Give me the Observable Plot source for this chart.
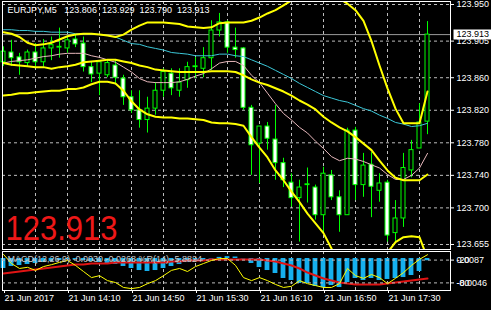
<!DOCTYPE html>
<html><head><meta charset="utf-8">
<script src="https://cdn.jsdelivr.net/npm/d3@7"></script>
<script src="https://cdn.jsdelivr.net/npm/@observablehq/plot@0.6"></script>
<style>
html,body{margin:0;padding:0;background:#000;}
#chart{position:relative;width:491px;height:310px;background:#000;overflow:hidden;}
#chart svg{position:absolute;left:0;}
</style></head><body><div id="chart"></div>
<script>
// ---------- data ----------
const symbol = "EURJPY,M5";
const open = [123.879,123.891,123.885,123.878,123.891,123.879,123.896,123.897,123.896,123.907,
  123.902,123.873,123.865,123.863,123.875,123.859,123.836,123.820,123.808,123.822,
  123.844,123.865,123.844,123.857,123.873,123.871,123.884,123.918,123.928,123.897,
  123.896,123.823,123.779,123.800,123.784,123.755,123.731,123.712,123.728,123.725,
  123.691,123.740,123.713,123.691,123.795,123.728,123.753,123.721,123.731,123.669,
  123.687,123.746,123.773,123.806];
const high = [123.898,123.906,123.890,123.894,123.902,123.907,123.910,123.921,123.912,123.912,
  123.910,123.879,123.881,123.881,123.881,123.863,123.844,123.844,123.836,123.854,
  123.871,123.871,123.871,123.879,123.885,123.897,123.930,123.939,123.930,123.921,
  123.897,123.826,123.800,123.805,123.826,123.761,123.742,123.734,123.749,123.728,
  123.750,123.746,123.721,123.798,123.799,123.767,123.768,123.742,123.734,123.709,
  123.767,123.783,123.828,123.929];
const low = [123.874,123.874,123.863,123.874,123.873,123.873,123.881,123.884,123.890,123.897,
  123.867,123.854,123.838,123.860,123.853,123.826,123.816,123.798,123.792,123.814,
  123.836,123.838,123.836,123.847,123.859,123.860,123.869,123.910,123.890,123.884,
  123.820,123.740,123.730,123.771,123.734,123.725,123.701,123.658,123.706,123.685,
  123.670,123.709,123.670,123.691,123.709,123.713,123.688,123.707,123.658,123.656,
  123.676,123.737,123.773,123.790];
const close = [123.892,123.884,123.879,123.891,123.879,123.896,123.900,123.898,123.906,123.901,
  123.873,123.864,123.879,123.878,123.860,123.836,123.820,123.808,123.822,123.844,
  123.867,123.847,123.854,123.873,123.874,123.884,123.918,123.928,123.897,123.894,
  123.823,123.777,123.800,123.785,123.755,123.734,123.712,123.725,123.729,123.691,
  123.742,123.713,123.691,123.795,123.728,123.752,123.726,123.730,123.666,123.687,
  123.749,123.771,123.805,123.913];
const bbUpper = [123.916,123.914,123.910,123.903,123.900,123.901,123.903,123.907,123.911,123.913,
  123.914,123.914,123.913,123.912,123.910,123.913,123.919,123.924,123.928,123.928,
  123.928,123.927,123.926,123.923,123.922,123.921,123.922,123.927,123.928,123.928,
  123.928,123.930,123.934,123.939,123.943,123.949,123.955,123.960,123.964,123.965,
  123.965,123.962,123.957,123.951,123.943,123.930,123.905,123.875,123.847,123.822,
  123.804,123.804,123.804,123.843];
const bbMiddle = [123.878,123.876,123.875,123.874,123.873,123.873,123.871,123.873,123.874,123.876,
  123.879,123.880,123.881,123.882,123.882,123.880,123.878,123.875,123.873,123.870,
  123.869,123.868,123.867,123.867,123.867,123.867,123.868,123.868,123.868,123.867,
  123.863,123.858,123.854,123.851,123.847,123.843,123.838,123.832,123.827,123.821,
  123.812,123.805,123.799,123.794,123.787,123.779,123.771,123.758,123.746,123.737,
  123.734,123.734,123.734,123.741];
const bbLower = [123.838,123.839,123.841,123.841,123.842,123.843,123.844,123.844,123.846,123.846,
  123.848,123.852,123.855,123.855,123.853,123.844,123.831,123.821,123.815,123.812,
  123.811,123.811,123.810,123.810,123.809,123.808,123.805,123.804,123.804,123.803,
  123.801,123.787,123.774,123.762,123.746,123.734,123.720,123.707,123.693,123.681,
  123.669,123.650,123.635,123.626,123.621,123.621,123.626,123.633,123.645,123.658,
  123.664,123.665,123.664,123.638];
const maSlow = [123.919,123.919,123.918,123.918,123.917,123.917,123.916,123.916,123.916,123.914,
  123.914,123.914,123.913,123.912,123.910,123.906,123.902,123.901,123.898,123.896,
  123.894,123.891,123.890,123.889,123.887,123.887,123.887,123.889,123.889,123.887,
  123.886,123.882,123.878,123.874,123.869,123.864,123.859,123.853,123.848,123.843,
  123.838,123.835,123.832,123.830,123.826,123.822,123.819,123.814,123.810,123.805,
  123.803,123.800,123.801,123.804];
const maFast = [123.878,123.880,123.881,123.882,123.884,123.886,123.887,123.889,123.890,123.890,
  123.890,123.887,123.885,123.882,123.879,123.873,123.867,123.859,123.855,123.854,
  123.854,123.854,123.855,123.858,123.862,123.865,123.871,123.878,123.880,123.880,
  123.875,123.863,123.854,123.841,123.828,123.816,123.808,123.799,123.792,123.782,
  123.773,123.763,123.758,123.761,123.760,123.757,123.753,123.749,123.741,123.735,
  123.735,123.740,123.749,123.767];
const macdMain = [-0.0134,-0.0107,-0.0094,-0.0080,-0.0067,-0.0054,-0.0040,-0.0027,-0.0013,-0.0013,
  -0.0027,-0.0040,-0.0054,-0.0067,-0.0080,-0.0107,-0.0134,-0.0161,-0.0174,-0.0161,
  -0.0134,-0.0107,-0.0080,-0.0054,-0.0040,-0.0027,-0.0007,0.0015,0.0025,0.0020,
  -0.0005,-0.0067,-0.0121,-0.0161,-0.0201,-0.0268,-0.0295,-0.0335,-0.0335,-0.0375,
  -0.0389,-0.0362,-0.0389,-0.0322,-0.0268,-0.0295,-0.0268,-0.0295,-0.0281,-0.0268,
  -0.0255,-0.0228,-0.0174,-0.0030];
const macdSignal = [-0.0201,-0.0188,-0.0174,-0.0161,-0.0147,-0.0134,-0.0121,-0.0107,-0.0094,-0.0080,
  -0.0080,-0.0067,-0.0067,-0.0067,-0.0054,-0.0054,-0.0054,-0.0054,-0.0054,-0.0054,
  -0.0054,-0.0040,-0.0040,-0.0027,-0.0027,-0.0027,-0.0013,-0.0013,-0.0013,-0.0013,
  -0.0013,-0.0013,-0.0013,-0.0027,-0.0040,-0.0067,-0.0094,-0.0134,-0.0188,-0.0228,
  -0.0268,-0.0295,-0.0322,-0.0335,-0.0348,-0.0348,-0.0348,-0.0348,-0.0335,-0.0322,
  -0.0308,-0.0295,-0.0281,-0.0268];
const wpr = [-5,-29,-42,-39,-47,-37,-32,-26,-21,-34,
  -50,-66,-61,-74,-79,-92,-95,-92,-82,-74,
  -61,-47,-42,-50,-37,-29,-21,-16,-16,-34,
  -66,-74,-66,-74,-84,-92,-89,-74,-82,-87,
  -92,-92,-82,-42,-61,-68,-58,-66,-82,-68,
  -53,-34,-18,-5.8824];
const priceTicks = [123.950,123.905,123.860,123.820,123.780,123.740,123.700,123.655];
const gridBars = [4,8,12,16,20,24,28,32,36,40,44,48,52];
const timeBars = [0,8,16,24,32,40,48];
const timeLabels = ["21 Jun 2017","21 Jun 14:10","21 Jun 14:50","21 Jun 15:30","21 Jun 16:10","21 Jun 16:50","21 Jun 17:30"];
const wprLevels = [-20,-80];
const macdScaleLabels = ["0.0087","-0.0046"];

// ---------- build ----------
const n = open.length, last = n - 1;
const bars = d3.range(n).map(i => ({i, open: open[i], high: high[i], low: low[i], close: close[i],
  up: bbUpper[i], mid: bbMiddle[i], lo: bbLower[i], slow: maSlow[i], fast: maFast[i],
  macd: macdMain[i], sig: macdSignal[i], wpr: wpr[i]}));
const lastPrice = close[last];
const lastText = lastPrice.toFixed(3);
const title = `${symbol}\u00a0\u00a0\u00a0${open[last].toFixed(3)}\u00a0 ${high[last].toFixed(3)}\u00a0 ${low[last].toFixed(3)}\u00a0 ${close[last].toFixed(3)}`;
const subLabel = `MACD(12,26,9) ${macdMain[last].toFixed(4)} ${macdSignal[last].toFixed(4)} %R(14) ${wpr[last].toFixed(4)}`;

const FONT = "'Liberation Sans', Arial, sans-serif";
const GRID = {stroke: "#bdbdbd", strokeOpacity: 1, strokeDasharray: "3,3"};
const GREEN = "#00ff00";
const xDomain = [-0.125, 55.875];
const W = 491, ML = 2, MR = 41;
const chart = document.getElementById("chart");

const main = Plot.plot({
  width: W, height: 250, marginTop: 1, marginBottom: 1, marginLeft: ML, marginRight: MR,
  x: {domain: xDomain, axis: null, label: null},
  y: {domain: [123.64885, 123.95369], axis: null, label: null},
  style: {background: "#000", color: "#fff", fontFamily: FONT, fontSize: "9px", overflow: "visible"},
  marks: [
    Plot.gridY(priceTicks, GRID),
    Plot.gridX(gridBars, GRID),
    Plot.ruleY([lastPrice], {stroke: "#9a9a9a"}),
    Plot.ruleX(bars, {x: "i", y1: "low", y2: "high", stroke: GREEN}),
    Plot.rect(bars.filter(d => d.close < d.open), {x1: d => d.i - 0.25, x2: d => d.i + 0.25, y1: "open", y2: "close", fill: "#fff", stroke: GREEN}),
    Plot.rect(bars.filter(d => d.close >= d.open), {x1: d => d.i - 0.25, x2: d => d.i + 0.25, y1: "open", y2: "close", fill: "#000", stroke: GREEN}),
    Plot.line(bars, {x: "i", y: "slow", stroke: "#3cc8d8", strokeWidth: 1, clip: true}),
    Plot.line(bars, {x: "i", y: "fast", stroke: "#e8b8bc", strokeWidth: 1, clip: true}),
    Plot.line(bars, {x: "i", y: "up", stroke: "#ffff00", strokeWidth: 2, clip: true}),
    Plot.line(bars, {x: "i", y: "mid", stroke: "#ffff00", strokeWidth: 2, clip: true}),
    Plot.line(bars, {x: "i", y: "lo", stroke: "#ffff00", strokeWidth: 2, clip: true}),
    Plot.axisY(priceTicks, {anchor: "right", label: null, tickSize: 3, tickPadding: 3, tickFormat: d => d.toFixed(3), fontSize: 9, stroke: "#fff", fill: "#fff"}),
    Plot.text([lastPrice], {y: d => d, frameAnchor: "right", dx: 6, textAnchor: "start", text: d => d.toFixed(3), fill: "#000", fontSize: 9}),
    Plot.text([title], {frameAnchor: "top-left", dx: 5, dy: 5, textAnchor: "start", lineAnchor: "top", fill: "#fff", fontSize: 9}),
    Plot.text([lastPrice], {frameAnchor: "bottom-left", dx: 3, dy: -21, textAnchor: "start", lineAnchor: "middle", text: d => d.toFixed(3), fill: "#ee1818", fontSize: 36}),
    Plot.frame({stroke: "#fff"})
  ]
});
main.style.top = "0px";
chart.appendChild(main);

const macdPlot = Plot.plot({
  width: W, height: 60, marginTop: 1, marginBottom: 20, marginLeft: ML, marginRight: MR,
  x: {domain: xDomain, axis: null, label: null},
  y: {domain: [-0.04288, 0.00938], axis: null, label: null},
  style: {background: "transparent", color: "#fff", fontFamily: FONT, fontSize: "9px", overflow: "visible"},
  marks: [
    Plot.gridX(gridBars, GRID),
    Plot.rect(bars, {x1: d => d.i - 0.3, x2: d => d.i + 0.3, y1: 0, y2: "macd", fill: "#16b0ee"}),
    Plot.line(bars, {x: "i", y: "sig", stroke: "#e01414", strokeWidth: 2}),
    Plot.axisX(timeBars, {anchor: "bottom", label: null, tickSize: 3, tickPadding: 1, textAnchor: "start", dx: 1,
      tickFormat: d => timeLabels[timeBars.indexOf(d)], fontSize: 9, stroke: "#fff", fill: "#fff"}),
    Plot.frame({stroke: "#fff"})
  ]
});
macdPlot.style.top = "250px";
chart.appendChild(macdPlot);

const wprPlot = Plot.plot({
  width: W, height: 60, marginTop: 1, marginBottom: 20, marginLeft: ML, marginRight: MR,
  x: {domain: xDomain, axis: null, label: null},
  y: {domain: [-100, 2.63], axis: null, label: null},
  style: {background: "transparent", color: "#fff", fontFamily: FONT, fontSize: "9px", overflow: "visible"},
  marks: [
    Plot.ruleY(wprLevels, GRID),
    Plot.line(bars, {x: "i", y: "wpr", stroke: "#ffff00", strokeWidth: 1}),
    Plot.text([subLabel], {frameAnchor: "top-left", dx: 5, dy: 8, textAnchor: "start", lineAnchor: "middle", fill: "#c8c8c8", fontSize: 9}),
    Plot.axisY(wprLevels, {anchor: "right", label: null, tickSize: 3, tickPadding: 3, tickFormat: d => String(d), fontSize: 9, stroke: "#fff", fill: "#fff"}),
    Plot.text(macdScaleLabels, {y: (d, k) => wprLevels[k], frameAnchor: "right", dx: 6, textAnchor: "start", fill: "#fff", fontSize: 9})
  ]
});
wprPlot.style.top = "250px";
chart.appendChild(wprPlot);

// post-styling: white box behind the small current-price label, condensed big red price
function trOf(t) { return t.getAttribute("transform"); }
const priceTexts = Array.from(main.querySelectorAll("text")).filter(t => t.textContent === lastText);
priceTexts.forEach(t => {
  const fs = parseFloat(getComputedStyle(t).fontSize);
  if (fs > 20) {
    const tr = trOf(t) || "";
    t.setAttribute("transform", (tr + " scale(0.86,1)").trim());
  } else {
    const b = t.getBBox();
    const r = document.createElementNS("http://www.w3.org/2000/svg", "rect");
    r.setAttribute("x", b.x - 3); r.setAttribute("y", b.y);
    r.setAttribute("width", b.width + 5); r.setAttribute("height", b.height);
    r.setAttribute("fill", "#fff");
    if (trOf(t)) r.setAttribute("transform", trOf(t));
    t.parentNode.insertBefore(r, t);
  }
});
</script></body></html>
